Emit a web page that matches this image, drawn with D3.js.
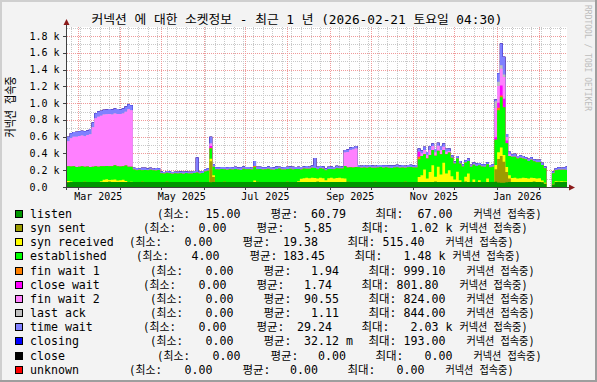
<!DOCTYPE html>
<html><head><meta charset="utf-8">
<script src="https://cdn.jsdelivr.net/npm/d3@7"></script>
<style>html,body{margin:0;padding:0;background:#f3f3f3;}svg{display:block}</style>
</head><body>
<svg id="c" width="597" height="382"></svg>
<script>
const titleText = "커넥션 에 대한 소켓정보 - 최근 1 년 (2026-02-21 토요일 04:30)";
const yAxisLabel = "커넥션 접속중";
const watermark = "RRDTOOL / TOBI OETIKER";
const startTime = Date.UTC(2025,1,21,4,30);
const endTime = Date.UTC(2026,1,21,4,30);
const stepDays = 2;
const yTickValues = [0,200,400,600,800,1000,1200,1400,1600,1800];
const yTickLabels = ["0.0","0.2 k","0.4 k","0.6 k","0.8 k","1.0 k","1.2 k","1.4 k","1.6 k","1.8 k"];
const xTickLabels = ["Mar 2025","May 2025","Jul 2025","Sep 2025","Nov 2025","Jan 2026"];
const xTickDates = ["2025-03-16","2025-05-16","2025-07-16","2025-09-16","2025-11-16","2026-01-16"];

const seriesNames = ["listen","syn sent","syn received","established","fin wait 1","close wait","fin wait 2","last ack","time wait","closing","close","unknown"];
const seriesColors = ["#009600","#9c9c00","#ffff00","#00ff00","#ff8000","#ff00ff","#ff80ff","#c0c0c0","#8080ff","#0000ff","#000000","#ff0000"];
const legendMin = ["15.00","0.00","0.00","4.00","0.00","0.00","0.00","0.00","0.00","0.00","0.00","0.00"];
const legendAvg = ["60.79","5.85","19.38","183.45","1.94","1.74","90.55","1.11","29.24","32.12 m","0.00","0.00"];
const legendMax = ["67.00","1.02 k","515.40","1.48 k","999.10","801.80","824.00","844.00","2.03 k","193.00","0.00","0.00"];

// one value every 2 days from 2025-02-21; null = no data
const listen = [58,60,61,60,59,60,62,61,60,60, 61,60,59,60,61,62,60,60,61,60, 60,61,60,59,60,61,60,62,61,60, 60,59,60,61,60,60,62,61,60,59, 60,61,60,60,59,60,61,62,60,60, 61,60,58,60,61,60,60,62,61,60, 60,61,60,59,60,61,60,60,61,62, 60,60,61,60,59,60,61,60,60,61, 62,60,60,61,60,59,60,61,60,60, 61,62,60,60,61,60,59,60,61,60, 60,61,62,60,60,61,60,59,60,61, 60,60,62,61,60,60,61,60,59,60, 61,60,60,62,61,60,60,61,60,59, 60,61,60,60,62,61,60,60,61,60, 59,60,61,60,60,62,61,60,60,61, 60,59,60,61,60,60,62,55,50,52, 58,60,61,60,60,59,60,61,60,60, 62,61,60,58,40,null,null,30,60,61, 60,61,60];
const synSent = [0,0,0,0,0,0,0,0,0,0, 0,0,0,0,0,0,0,0,0,0, 0,0,0,0,0,0,0,0,0,0, 0,0,0,0,0,0,0,0,0,0, 0,0,0,0,0,0,0,0,0,0, 0,0,250,60,0,0,0,0,0,0, 0,0,0,0,0,0,0,0,0,0, 0,0,0,0,0,0,0,0,0,0, 0,0,0,0,0,0,0,0,0,0, 0,0,0,0,0,0,0,0,0,0, 0,0,0,0,0,0,0,0,0,0, 0,0,0,0,0,0,0,0,0,0, 0,0,0,0,0,0,0,0,0,0, 0,0,0,0,0,0,0,0,0,0, 0,0,0,0,0,0,0,0,0,0, 0,0,0,0,0,0,150,280,320,250, 120,40,0,0,0,0,0,0,0,0, 0,0,0,0,0,null,null,0,0,0, 0,0,0];
const synReceived = [15,5,0,0,0,0,0,0,0,0, 0,0,10,25,30,20,25,30,15,20, 25,10,0,5,0,0,0,0,0,0, 0,0,0,0,0,0,0,0,0,0, 0,0,0,0,0,0,0,0,0,0, 0,0,30,20,0,0,0,0,0,0, 0,0,0,0,0,0,0,0,15,0, 0,0,0,0,0,0,0,0,0,0, 0,0,0,0,10,40,45,50,45,50, 45,40,50,45,20,45,50,40,45,50, 45,40,0,0,0,0,0,0,0,0, 0,0,0,0,0,0,0,0,0,0, 0,0,0,0,0,0,0,0,60,80, 150,40,120,200,60,180,90,230,100,140, 70,30,120,20,0,60,100,0,30,0, 20,0,0,40,0,0,50,80,100,80, 60,40,45,50,40,45,50,45,40,50, 45,40,45,20,10,null,null,5,10,5, 10,5,5];
const established = [175,180,185,178,182,186,180,184,178,182, 185,180,178,163,160,166,162,168,170,165, 163,186,180,178,150,140,145,138,142,140, 145,140,138,142,105,100,108,102,98,105, 100,104,98,106,102,100,105,110,102,108, 125,135,120,100,150,148,155,150,145,152, 148,155,150,145,158,150,152,148,160,150, 155,148,152,158,150,146,155,160,150,148, 152,158,150,155,145,110,115,108,112,118, 120,110,115,112,118,110,105,112,118,110, 115,150,170,175,172,178,175,170,172,168, 175,170,168,172,178,170,175,170,168,172, 175,170,172,168,175,178,172,170,210,230, 180,240,200,180,250,190,240,150,230,210, 220,190,160,200,185,170,150,180,175,190, 180,185,180,170,175,180,300,500,600,570, 285,230,255,250,240,245,230,225,210,215, 200,195,190,185,175,null,null,130,130,140, 135,140,138];
const finWait1 = [0,0,0,0,0,0,0,0,0,0, 0,0,0,0,0,0,0,0,0,0, 0,0,0,0,0,0,0,0,0,0, 0,0,0,0,0,0,0,0,0,0, 0,0,0,0,0,0,0,0,0,0, 0,0,10,0,0,0,0,0,0,0, 0,0,0,0,0,0,0,0,15,0, 0,0,0,0,0,0,0,0,0,0, 0,0,0,0,0,0,0,0,0,0, 0,0,0,0,0,0,0,0,0,0, 0,0,0,0,0,0,0,0,0,0, 0,0,0,0,0,0,0,0,0,0, 0,0,0,0,0,0,0,0,30,0, 0,0,0,0,0,0,0,0,0,0, 0,0,0,0,0,0,0,0,0,0, 0,0,0,0,0,0,0,30,20,0, 0,0,0,0,0,0,0,0,0,0, 0,0,0,0,0,null,null,0,0,0, 0,0,0];
const closeWait = [0,0,0,0,0,0,0,0,0,0, 0,0,0,0,0,0,0,0,0,0, 0,0,0,0,0,0,0,0,0,0, 0,0,0,0,0,0,0,0,0,0, 0,0,0,0,0,0,0,0,0,0, 0,0,20,0,0,0,0,0,0,0, 0,0,0,0,0,0,0,0,0,0, 0,0,0,0,0,0,0,0,0,0, 0,0,0,0,0,0,0,0,0,0, 0,0,0,0,0,0,0,0,0,0, 0,0,0,0,0,0,0,0,0,0, 0,0,0,0,0,0,0,0,0,0, 0,0,0,0,0,0,0,0,60,0, 0,0,0,0,0,0,0,0,0,0, 0,0,0,0,0,0,0,0,0,0, 0,0,0,0,0,0,30,60,120,100, 30,0,0,0,0,0,0,0,0,0, 0,0,0,0,0,null,null,0,0,0, 0,0,0];
const finWait2 = [297,335,354,362,366,369,363,375,392,470, 574,598,603,617,616,622,616,619,624,625, 627,641,687,673,0,0,0,0,0,0, 0,0,0,0,0,0,0,0,0,0, 0,0,0,0,0,0,0,0,0,0, 0,0,30,0,0,0,0,0,0,0, 0,0,0,0,0,0,0,0,0,0, 0,0,0,0,0,0,0,0,0,0, 0,0,0,0,0,0,0,0,0,0, 0,0,0,0,0,0,0,0,0,0, 0,160,185,205,215,220,0,0,0,0, 0,0,0,0,0,0,0,0,0,0, 0,0,0,0,0,0,0,0,0,30, 50,40,60,50,40,60,50,40,30,20, 0,0,0,0,0,0,0,0,0,0, 0,0,0,0,0,0,350,200,200,260, 40,20,0,0,0,0,0,0,0,0, 0,0,0,0,0,null,null,0,0,0, 0,0,0];
const lastAck = [0,0,0,0,0,0,0,0,0,0, 0,0,0,0,0,0,0,0,0,0, 0,0,0,0,0,0,0,0,0,0, 0,0,0,0,0,0,0,0,0,0, 0,0,0,0,0,0,0,0,0,0, 0,0,0,0,0,0,0,0,0,0, 0,0,0,0,0,0,0,0,0,0, 0,0,0,0,0,0,0,0,0,0, 0,0,0,0,0,0,0,0,0,0, 0,0,0,0,0,0,0,0,0,0, 0,0,0,0,0,0,0,0,0,0, 0,0,0,0,0,0,0,0,0,0, 0,0,0,0,0,0,0,0,0,0, 0,0,0,0,0,0,0,0,0,0, 0,0,0,0,0,0,0,0,0,0, 0,0,0,0,0,0,80,50,40,30, 0,0,0,0,0,0,0,0,0,0, 0,0,0,0,0,null,null,0,0,0, 0,0,0];
const timeWait = [55,60,55,60,58,55,60,55,60,58, 60,62,60,55,58,60,62,58,60,55, 60,62,58,60,20,25,20,30,25,22, 25,20,28,22,20,18,22,25,20,18, 22,20,25,18,20,22,25,180,20,22, 25,30,80,30,25,28,22,25,30,25, 28,25,22,30,25,28,25,22,60,30, 25,28,22,25,30,25,28,22,25,30, 28,25,30,22,25,28,25,30,25,28, 120,30,25,28,22,25,30,25,28,22, 25,30,30,30,30,30,28,25,30,25, 28,25,22,30,25,28,22,25,30,25, 28,25,30,22,25,28,25,30,40,35, 40,35,45,30,40,35,50,40,35,30, 30,25,28,30,25,28,30,25,28,30, 25,28,30,25,28,30,20,100,260,210, 40,30,30,35,30,28,30,25,28,30, 25,28,30,25,20,null,null,20,25,28, 25,30,40];
const closing = [0,0,0,0,0,0,0,0,0,0, 0,0,0,0,0,0,0,0,0,0, 0,0,0,0,0,0,0,0,0,0, 0,0,0,0,0,0,0,0,0,0, 0,0,0,0,0,0,0,0,0,0, 0,0,0,0,0,0,0,0,0,0, 0,0,0,0,0,0,0,0,0,0, 0,0,0,0,0,0,0,0,0,0, 0,0,0,0,0,0,0,0,0,0, 0,0,0,0,0,0,0,0,0,0, 0,0,0,0,0,0,0,0,0,0, 0,0,0,0,0,0,0,0,0,0, 0,0,0,0,0,0,0,0,0,0, 0,0,0,0,0,0,0,0,0,0, 0,0,0,0,0,0,0,0,0,0, 0,0,0,0,0,0,0,0,0,0, 0,0,0,0,0,0,0,0,0,0, 0,0,0,0,0,null,null,0,0,0, 0,0,0];
const closeState = [0,0,0,0,0,0,0,0,0,0, 0,0,0,0,0,0,0,0,0,0, 0,0,0,0,0,0,0,0,0,0, 0,0,0,0,0,0,0,0,0,0, 0,0,0,0,0,0,0,0,0,0, 0,0,0,0,0,0,0,0,0,0, 0,0,0,0,0,0,0,0,0,0, 0,0,0,0,0,0,0,0,0,0, 0,0,0,0,0,0,0,0,0,0, 0,0,0,0,0,0,0,0,0,0, 0,0,0,0,0,0,0,0,0,0, 0,0,0,0,0,0,0,0,0,0, 0,0,0,0,0,0,0,0,0,0, 0,0,0,0,0,0,0,0,0,0, 0,0,0,0,0,0,0,0,0,0, 0,0,0,0,0,0,0,0,0,0, 0,0,0,0,0,0,0,0,0,0, 0,0,0,0,0,null,null,0,0,0, 0,0,0];
const unknownState = [0,0,0,0,0,0,0,0,0,0, 0,0,0,0,0,0,0,0,0,0, 0,0,0,0,0,0,0,0,0,0, 0,0,0,0,0,0,0,0,0,0, 0,0,0,0,0,0,0,0,0,0, 0,0,0,0,0,0,0,0,0,0, 0,0,0,0,0,0,0,0,0,0, 0,0,0,0,0,0,0,0,0,0, 0,0,0,0,0,0,0,0,0,0, 0,0,0,0,0,0,0,0,0,0, 0,0,0,0,0,0,0,0,0,0, 0,0,0,0,0,0,0,0,0,0, 0,0,0,0,0,0,0,0,0,0, 0,0,0,0,0,0,0,0,0,0, 0,0,0,0,0,0,0,0,0,0, 0,0,0,0,0,0,0,0,0,0, 0,0,0,0,0,0,0,0,0,0, 0,0,0,0,0,null,null,0,0,0, 0,0,0];

const seriesData = [listen,synSent,synReceived,established,finWait1,closeWait,finWait2,lastAck,timeWait,closing,closeState,unknownState];

// layout
const W = 597, H = 382;
const PL = 67, PR = 567, PT = 27, PB = 187;
const MONO = "'DejaVu Sans Mono','Noto Sans CJK KR',monospace";
const legendPad = [18,16,14,15,17,16,17,17,16,17,18,14];

const svg = d3.select("#c");
svg.append("rect").attr("width",W).attr("height",H).attr("fill","#f3f3f3");
svg.append("rect").attr("x",0).attr("y",0).attr("width",W).attr("height",2).attr("fill","#cfcfcf");
svg.append("rect").attr("x",0).attr("y",0).attr("width",2).attr("height",H).attr("fill","#cfcfcf");
svg.append("rect").attr("x",0).attr("y",H-2).attr("width",W).attr("height",2).attr("fill","#9e9e9e");
svg.append("rect").attr("x",W-2).attr("y",0).attr("width",2).attr("height",H).attr("fill","#9e9e9e");

const stepMs = stepDays*86400000;
const x = d3.scaleUtc().domain([new Date(startTime), new Date(endTime)]).range([PL, PR]);
const y = d3.scaleLinear().domain([0,1800]).range([PB, 36]);

svg.append("rect").attr("x",PL).attr("y",PT).attr("width",PR-PL).attr("height",PB-PT).attr("fill","#fff");

const grid = svg.append("g").attr("shape-rendering","crispEdges");
d3.range(100,2000,100).filter(v=>v%200!==0).forEach(v=>{
  const yy = Math.round(y(v))+0.5;
  if (yy < PT) return;
  grid.append("line").attr("x1",PL).attr("x2",PR).attr("y1",yy).attr("y2",yy)
    .attr("stroke","#c8c8c8").attr("stroke-dasharray","1,1");
});
d3.utcMonday.range(new Date(startTime), new Date(endTime)).forEach(d=>{
  const xx = Math.round(x(d))+0.5;
  grid.append("line").attr("x1",xx).attr("x2",xx).attr("y1",PT).attr("y2",PB)
    .attr("stroke","#c8c8c8").attr("stroke-dasharray","1,1");
});
yTickValues.slice(1).forEach(v=>{
  const yy = Math.round(y(v))+0.5;
  grid.append("line").attr("x1",PL).attr("x2",PR).attr("y1",yy).attr("y2",yy)
    .attr("stroke","#f09a9a").attr("stroke-dasharray","1,1");
});
const months = d3.utcMonth.range(new Date(startTime), new Date(endTime));
months.forEach(d=>{
  const xx = Math.round(x(d))+0.5;
  grid.append("line").attr("x1",xx).attr("x2",xx).attr("y1",PT).attr("y2",PB)
    .attr("stroke","#f09a9a").attr("stroke-dasharray","1,1");
});

const n = listen.length;
const rows = d3.range(n).map(i=>{
  const r = {i, t: new Date(startTime + i*stepMs), gap: listen[i]==null};
  seriesNames.forEach((k,j)=>{ r[k] = seriesData[j][i]; });
  return r;
});
const layers = d3.stack().keys(seriesNames).value((d,k)=> d[k]==null ? 0 : d[k])(rows);

svg.append("clipPath").attr("id","clip").append("rect")
  .attr("x",PL).attr("y",PT-10).attr("width",PR-PL).attr("height",PB-PT+10);
const dataG = svg.append("g").attr("clip-path","url(#clip)");
const area = d3.area().defined(d=>!d.gap).x(d=>x(d.t)).y0(y(0)).y1(d=>y(d.v));
for (let j = seriesNames.length-1; j >= 0; j--) {
  const pts = [];
  rows.forEach((r,i)=>{
    const top = layers[j][i][1];
    pts.push({t:r.t, v:top, gap:r.gap});
    pts.push({t:new Date(+r.t + stepMs), v:top, gap:r.gap});
  });
  dataG.append("path").attr("d", area(pts)).attr("fill", seriesColors[j]);
}

const ax = svg.append("g").attr("shape-rendering","crispEdges");
ax.append("line").attr("x1",63).attr("x2",570).attr("y1",PB+0.5).attr("y2",PB+0.5).attr("stroke","#404040");
ax.append("line").attr("x1",PL-0.5).attr("x2",PL-0.5).attr("y1",PB+3).attr("y2",24).attr("stroke","#404040");
yTickValues.forEach(v=>{
  const yy = Math.round(y(v))+0.5;
  ax.append("line").attr("x1",PL-4).attr("x2",PL).attr("y1",yy).attr("y2",yy).attr("stroke","#404040");
});
months.forEach(d=>{
  const xx = Math.round(x(d))+0.5;
  ax.append("line").attr("x1",xx).attr("x2",xx).attr("y1",PB).attr("y2",PB+3).attr("stroke","#404040");
});
svg.append("path").attr("d",`M${PL-3.5},25 L${PL+2.5},25 L${PL-0.5},19 Z`).attr("fill","#8b1a1a");
svg.append("path").attr("d",`M569,${PB-2.5} L569,${PB+3.5} L575,${PB+0.5} Z`).attr("fill","#8b1a1a");

yTickValues.forEach((v,i)=>{
  svg.append("text").attr("x",29.5).attr("y",y(v)+3.6).text(yTickLabels[i])
    .attr("font-family",MONO).attr("font-size",10).attr("fill","#000");
});
xTickLabels.forEach((s,i)=>{
  svg.append("text").attr("x",x(new Date(xTickDates[i]+"T00:00:00Z"))).attr("y",199.5)
    .attr("text-anchor","middle").text(s)
    .attr("font-family",MONO).attr("font-size",10).attr("fill","#000");
});

svg.append("text").attr("x",91.5).attr("y",23.5).text(titleText)
  .attr("font-family",MONO).attr("font-size",12.2).attr("fill","#000")
  .attr("textLength",411).attr("lengthAdjust","spacingAndGlyphs");
svg.append("text").attr("transform","translate(14.5,107) rotate(-90)").attr("text-anchor","middle")
  .text(yAxisLabel).attr("font-family",MONO).attr("font-size",12.5).attr("fill","#000")
  .attr("textLength",61).attr("lengthAdjust","spacingAndGlyphs");
svg.append("text").attr("transform","translate(585,5) rotate(90)").text(watermark)
  .attr("font-family",MONO).attr("font-size",8).attr("fill","#bdbdbd");

const lg = svg.append("g").attr("font-family",MONO).attr("font-size",11.6).attr("fill","#000");
function kor(s, xx, by, len){
  lg.append("text").attr("x",xx).attr("y",by).text(s)
    .attr("textLength",len).attr("lengthAdjust","spacingAndGlyphs");
}
function num(s, xEnd, by){
  const parts = s.split(" ");
  lg.append("text").attr("x",xEnd).attr("y",by).attr("text-anchor","end").text(parts[0]);
  if (parts[1]) lg.append("text").attr("x",xEnd+7).attr("y",by).text(parts[1]);
}
seriesNames.forEach((name,i)=>{
  const by = 218 + i*14.15;
  svg.append("rect").attr("x",15.5).attr("y",Math.round(by-8)+0.5).attr("width",7).attr("height",7)
    .attr("fill",seriesColors[i]).attr("stroke","#000").attr("shape-rendering","crispEdges");
  lg.append("text").attr("x",30).attr("y",by).text(name);
  const P = 31 + legendPad[i]*7;
  kor("(최소:", P, by, 33);
  num(legendMin[i], P+83.5, by);
  kor("평균:", P+113.5, by, 28);
  num(legendAvg[i], P+189, by);
  kor("최대:", P+218.5, by, 28);
  num(legendMax[i], P+295.5, by);
  kor("커넥션 접속중)", P+316.5, by, 68);
});
</script>
</body></html>
